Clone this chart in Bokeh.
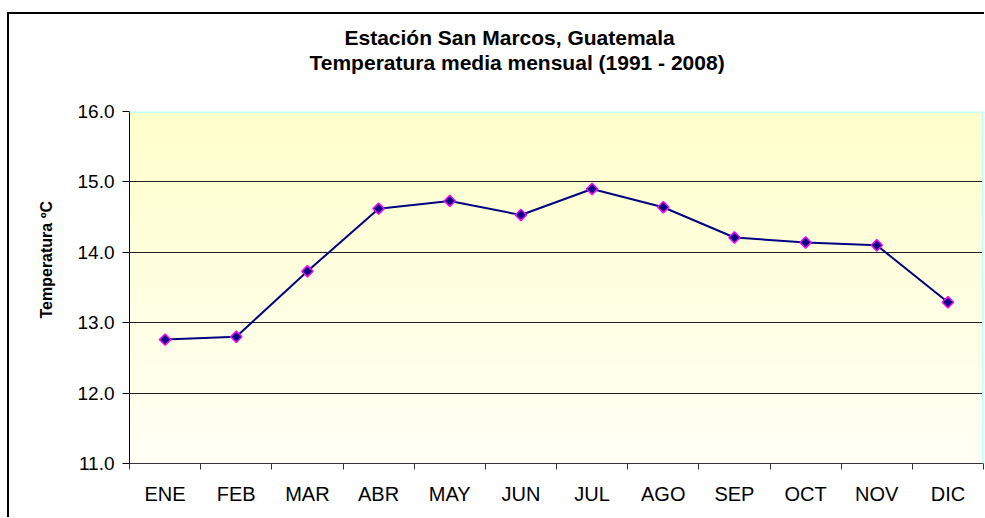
import numpy as np
from bokeh.plotting import figure
from bokeh.layouts import column
from bokeh.models import FixedTicker, NumeralTickFormatter, Title, Range1d, ColumnDataSource, Span
from bokeh.embed import file_html
from bokeh.resources import INLINE

months = ["ENE", "FEB", "MAR", "ABR", "MAY", "JUN", "JUL", "AGO", "SEP", "OCT", "NOV", "DIC"]
temps = [12.76, 12.80, 13.73, 14.62, 14.73, 14.53, 14.90, 14.64, 14.21, 14.14, 14.10, 13.29]
y_ticks = [11.0, 12.0, 13.0, 14.0, 15.0, 16.0]
grid_ticks = [12.0, 13.0, 14.0, 15.0]
title_lines = ["Estación San Marcos, Guatemala", "Temperatura media mensual (1991 - 2008)"]
y_label = "Temperatura ºC"

FONT = "Liberation Sans"
y_min, y_max = y_ticks[0], y_ticks[-1]
n = len(months)

p = figure(width=975, height=503, output_backend="svg", toolbar_location=None,
           x_range=Range1d(0, n), y_range=Range1d(y_min, y_max),
           min_border_left=120, min_border_right=1, min_border_top=97, min_border_bottom=54)
p.toolbar.logo = None
p.border_fill_color = "white"
p.outline_line_color = None

# background gradient (top pale yellow -> bottom near white)
rows = 200
img = np.empty((rows, 1), dtype=np.uint32)
view = img.view(dtype=np.uint8).reshape((rows, 1, 4))
t = np.linspace(0, 1, rows)  # 0 bottom, 1 top
view[:, 0, 0] = 255
view[:, 0, 1] = 255
view[:, 0, 2] = (246 - (246 - 204) * t).astype(np.uint8)
view[:, 0, 3] = 255
p.image_rgba(image=[img], x=0, y=y_min, dw=n, dh=y_max - y_min, level="image")

# pale cyan plot-area edges (top and right)
p.add_layout(Span(location=y_max, dimension="width", line_color="#C4FFFF", line_width=3))
p.add_layout(Span(location=n, dimension="height", line_color="#C4FFFF", line_width=3))

xs = [i + 0.5 for i in range(n)]
src = ColumnDataSource(dict(x=xs, y=temps, m=months))
p.line("x", "y", source=src, line_color="#000080", line_width=2)
p.scatter("x", "y", source=src, marker="square", angle=np.pi / 4, size=8,
          fill_color="#000080", line_color="#FF00FF", line_width=1.5)

# axes
p.xaxis.ticker = FixedTicker(ticks=xs, minor_ticks=list(range(n + 1)))
p.xaxis.major_label_overrides = {x: m for x, m in zip(xs, months)}
p.xaxis.major_tick_out = 0
p.xaxis.major_tick_in = 0
p.xaxis.minor_tick_out = 6
p.xaxis.minor_tick_in = 0
p.xaxis.minor_tick_line_color = "#333333"
p.xaxis.axis_line_color = "#333333"
p.xaxis.axis_line_width = 1
p.xaxis.major_label_text_font = FONT
p.xaxis.major_label_text_font_size = "20px"
p.xaxis.major_label_text_color = "black"
p.xaxis.major_label_standoff = 13

p.yaxis.ticker = FixedTicker(ticks=y_ticks)
p.yaxis.formatter = NumeralTickFormatter(format="0.0")
p.yaxis.major_tick_out = 7
p.yaxis.major_tick_in = 0
p.yaxis.minor_tick_out = 0
p.yaxis.minor_tick_in = 0
p.yaxis.axis_line_color = "black"
p.yaxis.major_tick_line_color = "black"
p.yaxis.major_label_text_font = FONT
p.yaxis.major_label_text_font_size = "19px"
p.yaxis.major_label_text_color = "black"
p.yaxis.major_label_standoff = 8

p.xgrid.grid_line_color = None
p.ygrid.ticker = FixedTicker(ticks=grid_ticks)
p.ygrid.grid_line_color = "#222222"
p.ygrid.grid_line_width = 1

# titles above the frame: spacer, then line 2, then line 1 (stacked outward)
p.add_layout(Title(text=" ", text_font_size="1px", standoff=35), "above")
p.add_layout(Title(text=title_lines[1], align="left", offset=180, standoff=0,
                   text_font=FONT, text_font_style="bold", text_font_size="21px",
                   text_color="black"), "above")
p.add_layout(Title(text=title_lines[0], align="left", offset=215, standoff=0,
                   text_font=FONT, text_font_style="bold", text_font_size="21px",
                   text_color="black"), "above")

# y axis title on the left side
p.add_layout(Title(text=y_label, align="left", offset=145, standoff=40,
                   text_font=FONT, text_font_style="bold", text_font_size="16px",
                   text_color="black"), "left")

layout = column(p, margin=(12, 0, 0, 7),
                styles={"border-left": "2px solid black", "border-top": "2px solid black"})

open("out.html", "w").write(file_html(layout, INLINE))
